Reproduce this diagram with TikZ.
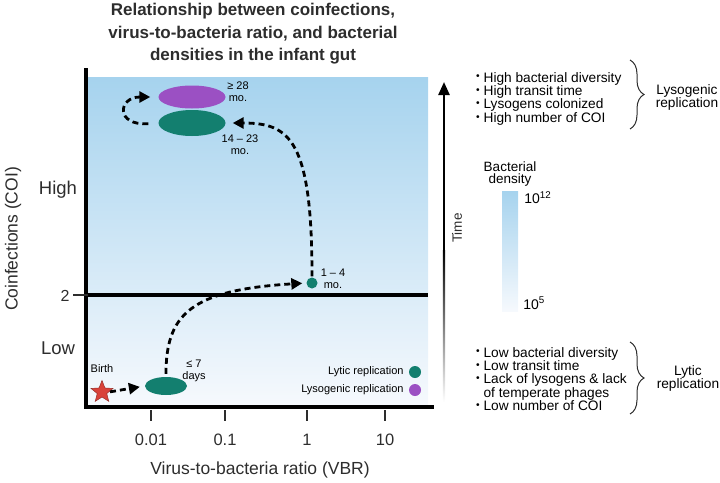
\documentclass[tikz,border=0pt]{standalone}
\usepackage{fontspec}
\setmainfont{Liberation Sans}
\usetikzlibrary{arrows.meta,positioning,shapes.geometric,decorations.pathreplacing,calc}

\definecolor{lyticgreen}{RGB}{19,127,111}
\definecolor{lysopurple}{RGB}{155,80,195}
\definecolor{gutblue}{RGB}{166,211,238}
\definecolor{gutpale}{RGB}{246,249,253}
\definecolor{birthred}{RGB}{217,66,58}
\definecolor{inkgray}{RGB}{45,45,45}

\newcommand{\dotitem}{\raisebox{0.3ex}{\scalebox{0.75}{\textbullet}}\ }

\begin{document}
\begin{tikzpicture}[
  x=1pt, y=-1pt,
  >={Triangle[length=11pt,width=11pt]},
  stage/.style={ellipse, inner sep=0pt},
  lytic/.style={stage, fill=lyticgreen},
  lyso/.style={stage, fill=lysopurple},
  when/.style={font=\fontsize{11}{12}\selectfont, align=center, inner sep=0pt},
  trail/.style={->, line width=2.8pt, dash pattern=on 6pt off 4pt},
  axislbl/.style={font=\fontsize{17.5}{19}\selectfont, text=inkgray, inner sep=0pt},
  ticklbl/.style={font=\fontsize{16.5}{18}\selectfont, text=inkgray, inner sep=0pt},
  level/.style={font=\fontsize{18.5}{20}\selectfont, text=inkgray, inner sep=0pt},
  side/.style={font=\fontsize{13.7}{13.4}\selectfont, align=left, inner sep=0pt, anchor=north west},
  tag/.style={font=\fontsize{13.7}{13}\selectfont, align=center, inner sep=0pt},
  brc/.style={decorate, decoration={brace, amplitude=14pt}, line width=1pt, inkgray},
  legdot/.style={circle, inner sep=0pt, minimum size=12pt},
  leg/.style={font=\fontsize{11}{12}\selectfont, inner sep=0pt},
  tick/.style={line width=1.6pt, inkgray}
]
\useasboundingbox (0,0) rectangle (720,482);

\node[font=\fontsize{17}{22.5}\selectfont\bfseries, text=inkgray, align=center, inner sep=0pt]
  (title) at (253,34) {Relationship between coinfections,\\virus-to-bacteria ratio, and bacterial\\densities in the infant gut};

% plot area: gradient, axes and the COI = 2 threshold
\shade[top color=gutblue, bottom color=gutpale] (88,77) rectangle (428,405);
\coordinate (ytop)   at (86,68);
\coordinate (origin) at (86,407);
\coordinate (xend)   at (434,407);
\draw[line width=3.5pt] (ytop) -- (origin) -- (xend);
\coordinate (cutL) at (88,295);
\coordinate (cutR) at (428,295);
\draw[line width=3.2pt] (cutL) -- (cutR);
\draw[line width=1.1pt, inkgray] (73,295) -- (cutL);
\node[ticklbl, font=\fontsize{16}{18}\selectfont] (two) at (65,296) {2};

\node[level] (high) at (58,190) {High};
\node[level] (low)  at (58,348) {Low};
\node[axislbl, rotate=90] (ylab) at (13,239) {Coinfections (COI)};

\draw[tick] (151,410) -- (151,421);
\draw[tick] (225,410) -- (225,421);
\draw[tick] (307,410) -- (307,421);
\draw[tick] (385,410) -- (385,421);
\node[ticklbl] (v001) at (151,440) {0.01};
\node[ticklbl] (v01)  at (225,440) {0.1};
\node[ticklbl] (v1)   at (307,440) {1};
\node[ticklbl] (v10)  at (385,440) {10};
\node[axislbl] (xlab) at (260,470) {Virus-to-bacteria ratio (VBR)};

% stages
\node[lyso,  minimum width=67pt, minimum height=23pt] (lateLyso)  at (192,97) {};
\node[lytic, minimum width=67pt, minimum height=26pt] (lateLytic) at (192,123) {};
\node[lytic, circle, minimum size=11pt]               (earlyMo)   at (312,283) {};
\node[lytic, minimum width=42pt, minimum height=18pt] (week)      at (166,386) {};
\node[star, star points=5, star point ratio=2.3, fill=birthred, draw=birthred!70!black,
      line width=0.5pt, minimum size=23pt, inner sep=0pt] (birth) at (102,392) {};

\node[when] (birthLbl) at (102,369) {Birth};
\node[when] (lateLysoLbl)  at (238,92)  {≥ 28\\mo.};
\node[when] (lateLyticLbl) at (240,145) {14 – 23\\mo.};
\node[when] (earlyMoLbl)   at (333,279) {1 – 4\\mo.};
\node[when] (weekLbl)      at (194,371) {≤ 7\\days};

\draw[trail, shorten <=1pt, shorten >=5pt] (birth.east) -- (week.west);
\draw[trail, shorten <=3pt, shorten >=4pt]
  (week.north) .. controls (166,315) and (190,290) .. (earlyMo.west);
\draw[trail, shorten <=1pt, shorten >=7pt]
  (earlyMo.north) .. controls (312,140) and (290,123) .. (lateLytic.east);
\draw[trail, shorten <=10pt, shorten >=8pt]
  (lateLytic.west) .. controls (115,126) and (118,97) .. (lateLyso.west);

% legend
\node[legdot, fill=lyticgreen] (lyticdot) at (415,372) {};
\node[legdot, fill=lysopurple] (lysodot)  at (415,390) {};
\node[leg, left=5pt of lyticdot] (lyticLeg) {Lytic replication};
\node[leg, left=5pt of lysodot]  (lysoLeg)  {Lysogenic replication};

% time arrow, fading out towards birth
\coordinate (tTop) at (444,82);
\coordinate (tMid) at (444,250);
\coordinate (tBot) at (444,402);
\shade[top color=black, bottom color=white] ($(tMid)+(-1.2,0)$) rectangle ($(tBot)+(1.2,0)$);
\draw[line width=2.4pt, -{Triangle[length=13pt,width=11pt]}] ($(tMid)+(0,1)$) -- (tTop);
\node[font=\fontsize{13.5}{15}\selectfont, text=inkgray, rotate=90, inner sep=0pt] (time) at (457,228) {Time};

% side notes
\node[side] (lysoList) at (476,72) {\dotitem High bacterial diversity\\\dotitem High transit time\\\dotitem Lysogens colonized\\\dotitem High number of COI};
\draw[brc] (630,60) -- (630,129);
\node[tag] (lysoTag) at (687,97) {Lysogenic\\replication};

\node[side] (lyticList) at (476,347) {\dotitem Low bacterial diversity\\\dotitem Low transit time\\\dotitem Lack of lysogens \& lack\\\phantom{\dotitem}of temperate phages\\\dotitem Low number of COI};
\draw[brc] (630,342) -- (630,414);
\node[tag] (lyticTag) at (688,378) {Lytic\\replication};

% colour scale
\node[minimum width=16pt, minimum height=120pt, inner sep=0pt,
      top color=gutblue, bottom color=gutpale] (densbar) at (510,251) {};
\node[font=\fontsize{13.5}{12.5}\selectfont, align=center, inner sep=0pt, above=4pt of densbar] (densLbl) {Bacterial\\density};
\node[font=\fontsize{14}{15}\selectfont, anchor=west, inner sep=0pt] (densHi)
  at ([xshift=6pt,yshift=-7pt]densbar.north east) {10\textsuperscript{12}};
\node[font=\fontsize{14}{15}\selectfont, anchor=west, inner sep=0pt] (densLo)
  at ([xshift=5pt,yshift=8pt]densbar.south east) {10\textsuperscript{5}};
\end{tikzpicture}
\end{document}
